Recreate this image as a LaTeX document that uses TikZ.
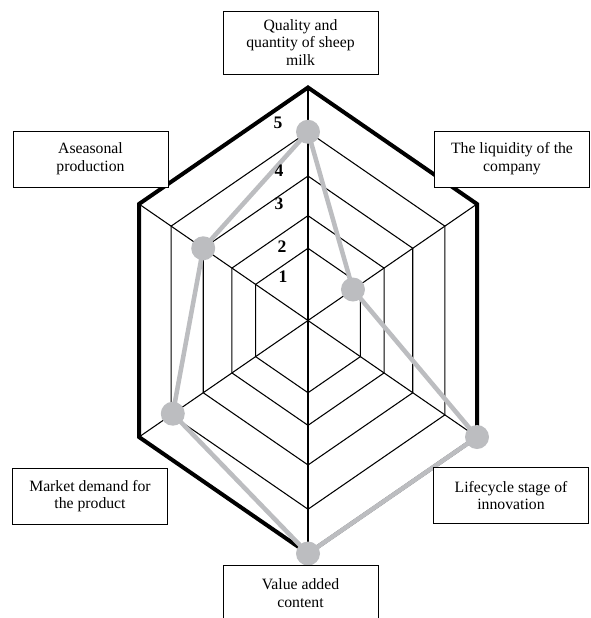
\documentclass[tikz,border=0pt]{standalone}
\usepackage{fontspec}
\setmainfont{Liberation Serif}
\definecolor{dgray}{RGB}{188,189,192}
\begin{document}
\begin{tikzpicture}[x=0.75pt,y=-0.75pt,
  ring/.style={line width=0.8pt, line join=miter},
  outerhex/.style={line width=3pt, line join=miter},
  dataline/.style={draw=dgray, line width=3.4pt, line join=round},
  datadot/.style={circle, fill=dgray, inner sep=0pt, minimum size=18pt},
  lbl/.style={draw, line width=0.75pt, fill=white, align=center, inner sep=0pt,
    minimum width=116.25pt, minimum height=42pt, font=\fontsize{11.8}{13.3}\selectfont},
  num/.style={font=\fontsize{13.2}{14}\selectfont\bfseries, inner sep=0pt}
]
\useasboundingbox (0,0) rectangle (591,618);
\clip (0,0) rectangle (591,618);
\begin{scope}[shift={(308,320.5)}]
  % rings
  \foreach \f in {0.31,0.45,0.62,0.81}{
    \draw[ring] (0,-233*\f) -- (169*\f,-116.5*\f) -- (169*\f,116.5*\f) -- (0,233*\f)
      -- (-169*\f,116.5*\f) -- (-169*\f,-116.5*\f) -- cycle;
  }
  % outer vertices
  \coordinate (vt) at (0,-233);
  \coordinate (vur) at (169,-116.5);
  \coordinate (vlr) at (169,116.5);
  \coordinate (vb) at (0,233);
  \coordinate (vll) at (-169,116.5);
  \coordinate (vul) at (-169,-116.5);
  % spokes
  \draw[ring] (vt) -- (vb);
  \draw[ring] (vur) -- (vll);
  \draw[ring] (vlr) -- (vul);
  % outer thick hexagon
  \draw[outerhex] (vt) -- (vur) -- (vlr) -- (vb) -- (vll) -- (vul) -- cycle;
  % data points
  \coordinate (dq) at (0,-233*0.81);
  \coordinate (dl) at (169*0.266,-116.5*0.266);
  \coordinate (dc) at (169,116.5);
  \coordinate (dv) at (0,233);
  \coordinate (dm) at (-169*0.8,116.5*0.8);
  \coordinate (da) at (-169*0.62,-116.5*0.62);
  \draw[dataline] (dq) -- (dl) -- (dc) -- (dv) -- (dm) -- (da) -- cycle;
  \foreach \p in {dq,dl,dc,dv,dm,da}{ \node[datadot] (n\p) at (\p) {}; }
\end{scope}
% scale numbers
\node[num] (s5) at (278,123) {5};
\node[num] (s4) at (279,171) {4};
\node[num] (s3) at (279,204) {3};
\node[num] (s2) at (282,247) {2};
\node[num] (s1) at (283,277) {1};
% label boxes
\node[lbl, minimum height=47.25pt] (bq) at (300.5,42.5) {Quality and\\quantity of sheep\\milk};
\node[lbl] (bl) at (512,159) {The liquidity of the\\company};
\node[lbl] (ba) at (90.5,159) {Aseasonal\\production};
\node[lbl] (bm) at (90,496) {Market demand for\\the product};
\node[lbl] (bc) at (511,495.5) {Lifecycle stage of\\innovation};
\node[lbl] (bv) at (300.5,593) {Value added\\content};
\end{tikzpicture}
\end{document}
